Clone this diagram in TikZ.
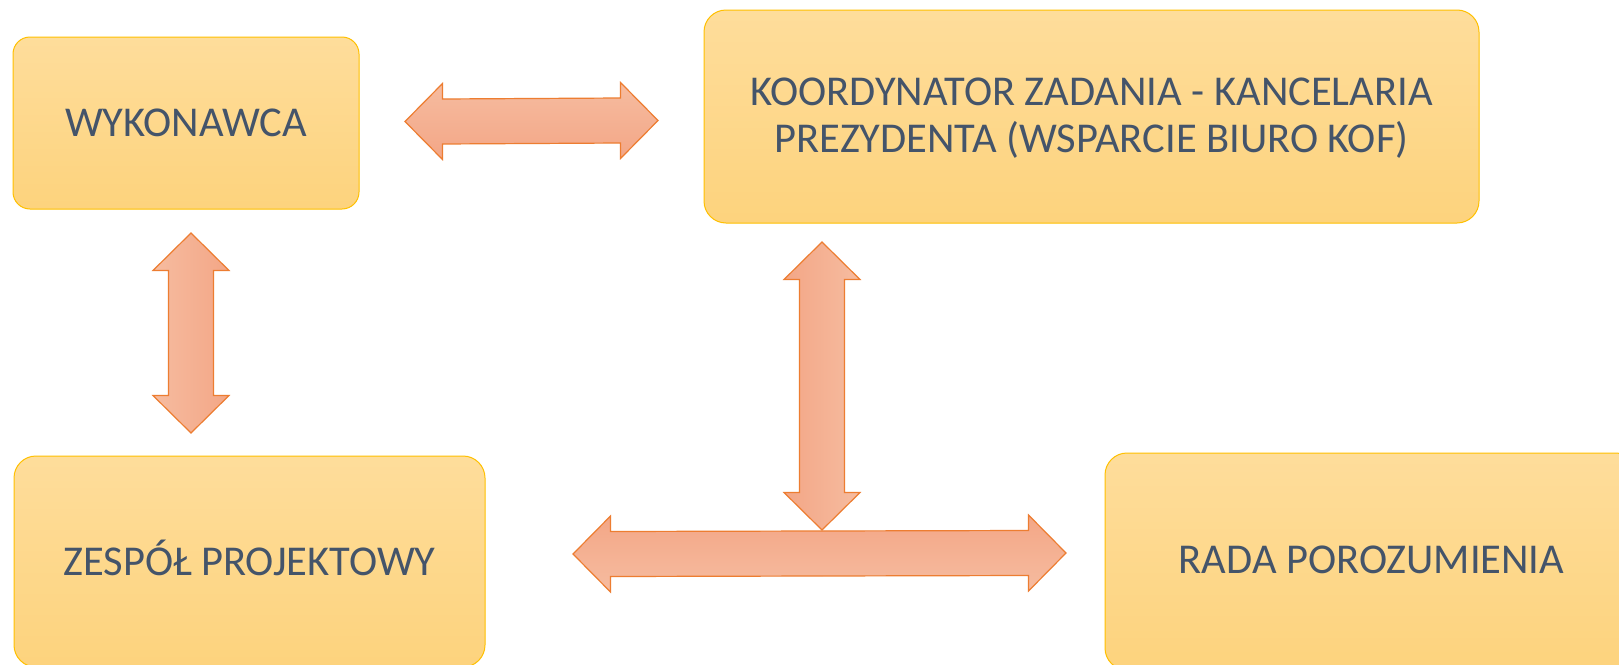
\documentclass[tikz,border=0pt]{standalone}
\usepackage{fontspec}
\setmainfont{Carlito}
\usetikzlibrary{calc}
\definecolor{boxtop}{HTML}{FEDD9B}
\definecolor{boxbot}{HTML}{FDD37D}
\definecolor{boxline}{HTML}{FFC000}
\definecolor{txt}{HTML}{44546A}
\definecolor{arrlight}{HTML}{F6BCA0}
\definecolor{arrdark}{HTML}{F3A686}
\definecolor{arrline}{HTML}{ED7D31}
\newcommand{\hdbl}[3]{% #1 left tip, #2 right tip, #3 style
  \path[#3] (#1) -- ($(#1)+(37.5,-38)$) -- ($(#1)+(37.5,-22.5)$) -- ($(#2)+(-37.5,-22.5)$)
   -- ($(#2)+(-37.5,-38)$) -- (#2) -- ($(#2)+(-37.5,38)$) -- ($(#2)+(-37.5,22.5)$)
   -- ($(#1)+(37.5,22.5)$) -- ($(#1)+(37.5,38)$) -- cycle;}
\newcommand{\vdbl}[3]{% #1 top tip, #2 bottom tip, #3 style
  \path[#3] (#1) -- ($(#1)+(38,37.5)$) -- ($(#1)+(22.5,37.5)$) -- ($(#2)+(22.5,-37.5)$)
   -- ($(#2)+(38,-37.5)$) -- (#2) -- ($(#2)+(-38,-37.5)$) -- ($(#2)+(-22.5,-37.5)$)
   -- ($(#1)+(-22.5,37.5)$) -- ($(#1)+(-38,37.5)$) -- cycle;}
\tikzset{
  box/.style={draw=boxline, line width=1pt, top color=boxtop, bottom color=boxbot,
    inner sep=0pt, outer sep=0pt, text=txt, align=center,
    font=\fontsize{42.5}{47.5}\selectfont},
  oneline/.style={text height=27.3pt, text depth=0pt},
  arr/.style={draw=arrline, line width=1.2pt, line join=miter},
}
\begin{document}
\begin{tikzpicture}[x=1pt,y=-1pt]
\useasboundingbox (0,0) rectangle (1619,664);
\fill[white] (0,0) rectangle (1619,664);
% boxes
\node[box, oneline, minimum width=346, minimum height=172, rounded corners=17] (wyk) at (186,123) {WYKONAWCA};
\node[box, minimum width=775, minimum height=213, rounded corners=22] (koord) at (1091.5,116.5)
  {\raisebox{-3pt}[\height][\depth]{\begin{tabular}{@{}c@{}}KOORDYNATOR ZADANIA - KANCELARIA\\PREZYDENTA (WSPARCIE BIURO KOF)\end{tabular}}};
\node[box, oneline, minimum width=471, minimum height=211, rounded corners=22] (zesp) at (249.5,561.5) {ZESPÓŁ PROJEKTOWY};
\node[box, oneline, minimum width=533, minimum height=217, rounded corners=22] (rada) at (1371.5,561.5) {\raisebox{2pt}[\height][\depth]{RADA POROZUMIENIA}};
% arrow end points
\coordinate (t1) at (405,121.5);
\coordinate (t2) at (658,120.5);
\coordinate (l1) at (191,233);
\coordinate (l2) at (191,433);
\coordinate (r1) at (822,242);
\coordinate (r2) at (822,530);
\coordinate (b1) at (573,554);
\coordinate (b2) at (1066,553);
\hdbl{t1}{t2}{arr, top color=arrlight, bottom color=arrdark}
\vdbl{l1}{l2}{arr, left color=arrlight, right color=arrdark}
\vdbl{r1}{r2}{arr, left color=arrdark, right color=arrlight}
\hdbl{b1}{b2}{arr, top color=arrdark, bottom color=arrlight}
\end{tikzpicture}
\end{document}
